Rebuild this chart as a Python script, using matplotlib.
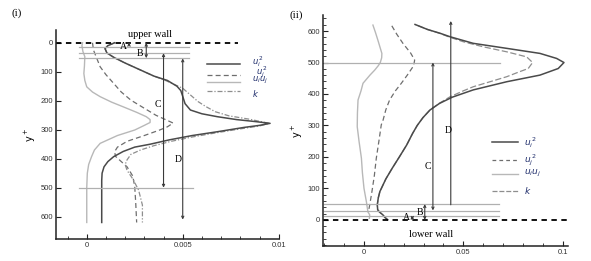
import matplotlib
matplotlib.use("Agg")
import matplotlib.pyplot as plt
from matplotlib.ticker import MultipleLocator

# ---------------- data: panel (i) ----------------
L_ui2_y = [0, 10, 20, 35, 50, 70, 85, 100, 115, 130, 150, 165, 185, 210, 232, 245, 255, 265, 272, 278,
           285, 292, 307, 320, 335, 350, 360, 375, 393, 410, 428, 450, 475, 620]
L_ui2_x = [0.00145, 0.0011, 0.00095, 0.00105, 0.0014, 0.0020, 0.0025, 0.0030, 0.0035, 0.0042, 0.0047,
           0.0049, 0.0050, 0.00512, 0.0054, 0.0060, 0.0068, 0.0078, 0.0088, 0.00955, 0.0090, 0.0082,
           0.0068, 0.0055, 0.0043, 0.0033, 0.0025, 0.0019, 0.0014, 0.0011, 0.0009, 0.0008, 0.00078, 0.00078]

L_k_y = [0, 10, 20, 35, 50, 70, 85, 100, 115, 130, 145, 157, 180, 203, 220, 238, 252, 264, 278, 287,
         295, 310, 325, 340, 355, 370, 385, 404, 420, 440, 470, 508, 560, 620]
L_k_x = [0.00145, 0.0011, 0.00095, 0.00105, 0.0014, 0.0020, 0.0025, 0.0030, 0.0035, 0.0041, 0.0046,
         0.0050, 0.0054, 0.0058, 0.0062, 0.0067, 0.0074, 0.0085, 0.0095, 0.0090, 0.0082, 0.0068,
         0.0055, 0.0044, 0.0035, 0.0028, 0.0023, 0.0021, 0.0020, 0.0021, 0.0024, 0.0027, 0.0029, 0.0029]

L_uj2_y = [0, 25, 50, 83, 110, 140, 170, 198, 226, 250, 265, 277, 290, 301, 320, 340, 360, 376, 392,
           410, 428, 460, 497, 550, 620]
L_uj2_x = [0.0003, 0.00035, 0.0005, 0.0007, 0.0010, 0.0014, 0.0018, 0.0023, 0.0030, 0.0036, 0.0041,
           0.0045, 0.0042, 0.0038, 0.0030, 0.0021, 0.0016, 0.00145, 0.0015, 0.0018, 0.0021, 0.0024,
           0.0025, 0.00255, 0.0026]

L_uiuj_y = [0, 10, 30, 48, 80, 106, 130, 152, 170, 186, 205, 221, 240, 255, 265, 275, 285, 301, 320,
            347, 370, 393, 420, 450, 500, 620]
L_uiuj_x = [-0.00022, -0.00025, -0.0002, -0.0001, -0.00012, -0.00015, -0.0001, 0.0, 0.0003, 0.0007,
            0.0013, 0.0019, 0.0026, 0.0031, 0.0033, 0.0033, 0.0030, 0.0025, 0.0016, 0.0007, 0.0004,
            0.00025, 0.0001, 0.00003, 0.0, 0.0]

# ---------------- data: panel (ii) ----------------
R_ui2_y = [0, 8, 16, 25, 32, 48, 70, 90, 130, 164, 200, 238, 275, 300, 325, 349, 370, 390, 413, 439,
           460, 481, 500, 513, 529, 545, 561, 582, 593, 605, 621]
R_ui2_x = [0.012, 0.0105, 0.0095, 0.0078, 0.0069, 0.0067, 0.0072, 0.0080, 0.0110, 0.0142, 0.0178,
           0.0215, 0.0245, 0.0268, 0.0297, 0.0332, 0.0380, 0.0445, 0.0550, 0.0719, 0.0886, 0.0978,
           0.1007, 0.0970, 0.0886, 0.0719, 0.0550, 0.0433, 0.0383, 0.0320, 0.0257]

R_k_y = [0, 8, 16, 25, 32, 48, 70, 90, 130, 164, 200, 238, 275, 300, 325, 349, 370, 391, 410,
         423, 440, 455, 470, 481, 500, 518, 534, 550, 566, 582, 593, 605, 621]
R_k_x = [0.012, 0.0105, 0.0095, 0.0078, 0.0069, 0.0067, 0.0072, 0.0080, 0.0110, 0.0142, 0.0178,
         0.0215, 0.0245, 0.0268, 0.0297, 0.0332, 0.0378, 0.0433, 0.0500, 0.0550, 0.0640,
         0.0719, 0.0780, 0.0827, 0.0849, 0.0819, 0.0719, 0.0600, 0.0500, 0.0425, 0.0380, 0.0320, 0.0257]

R_uj2_y = [35, 48, 90, 140, 196, 250, 302, 317, 350, 381, 410, 434, 460, 487, 500, 508, 530, 561, 590, 619]
R_uj2_x = [0.0025, 0.0029, 0.0040, 0.0052, 0.0062, 0.0075, 0.0087, 0.0096, 0.0110, 0.0129, 0.0158,
           0.0188, 0.0218, 0.0247, 0.0253, 0.0255, 0.0235, 0.0196, 0.0165, 0.0138]

R_uiuj_y = [5, 16, 25, 37, 58, 100, 150, 196, 250, 296, 340, 381, 410, 434, 460, 476, 490, 500, 515,
            529, 550, 571, 595, 619]
R_uiuj_x = [0.0027, 0.0029, 0.0020, 0.0017, 0.0012, 0.0, -0.0008, -0.0013, -0.0025, -0.0034, -0.0033,
            -0.0030, -0.0015, -0.0005, 0.0030, 0.0054, 0.0072, 0.0082, 0.0089, 0.0090, 0.0080, 0.0070,
            0.0058, 0.0045]

legend_labels = [r'$u_i^{\,2}$', r'$u_j^{\,2}$', r'$u_iu_j$', r'$k$']
L_xticks = [0, 0.005, 0.01]
L_xticklabels = ['0', '0.005', '0.01']
R_xticks = [0, 0.05, 0.1]
R_xticklabels = ['0', '0.05', '0.1']
yticks = [0, 100, 200, 300, 400, 500, 600]

# ---------------- styles ----------------
C_UI2 = '#4a4a4a'
C_UJ2 = '#6e6e6e'
C_UIUJ = '#b8b8b8'
C_K = '#8e8e8e'
C_GUIDE = '#b0b0b0'
C_ARR = '#3a3a3a'
LBL_C = '#1f2d6b'
SERIF = 'Liberation Serif'

fig = plt.figure(figsize=(5.91, 2.61), dpi=100)
fig.patch.set_facecolor('white')

axL = fig.add_axes([0.0948, 0.0843, 0.3768, 0.8007])
axR = fig.add_axes([0.546, 0.0575, 0.415, 0.885])


def style_axis(ax):
    for s in ['top', 'right']:
        ax.spines[s].set_visible(False)
    for s in ['left', 'bottom']:
        ax.spines[s].set_linewidth(1.1)
        ax.spines[s].set_color('#222222')
    ax.tick_params(which='both', direction='in', colors='#222222', labelsize=5.5,
                   labelcolor='#333333', pad=2)
    ax.tick_params(which='major', length=3.5, width=0.8)
    ax.tick_params(which='minor', length=2, width=0.6)
    for lab in ax.get_xticklabels() + ax.get_yticklabels():
        lab.set_family('Liberation Sans')


def varrow(ax, x, y0, y1, style='<->'):
    ax.annotate('', xy=(x, y1), xytext=(x, y0),
                arrowprops=dict(arrowstyle=style, color=C_ARR, lw=0.8,
                                mutation_scale=4, shrinkA=0, shrinkB=0))


# ---------------- panel (i) ----------------
ax = axL
ax.plot(L_uiuj_x, L_uiuj_y, color=C_UIUJ, lw=1.0, ls='-')
ax.plot(L_uj2_x, L_uj2_y, color=C_UJ2, lw=0.9, ls=(0, (4, 2.5)))
ax.plot(L_k_x, L_k_y, color=C_K, lw=0.9, ls=(0, (4, 1.5, 1, 1.5)))
ax.plot(L_ui2_x, L_ui2_y, color=C_UI2, lw=1.1, ls='-')

for yy in [13, 35, 53]:
    ax.plot([-0.0004, 0.00535], [yy, yy], color=C_GUIDE, lw=0.9)
ax.plot([-0.0004, 0.00555], [500, 500], color=C_GUIDE, lw=0.9)
ax.plot([-0.0016, 0.0079], [0, 0], color='black', lw=1.3, ls=(0, (3, 2.5)))

varrow(ax, 0.0022, 0, 12)
varrow(ax, 0.0031, 0, 53)
varrow(ax, 0.0040, 36, 500)
varrow(ax, 0.0050, 54, 610)
ax.text(0.0019, 12, 'A', family=SERIF, fontsize=7, ha='center', va='center')
ax.text(0.00275, 38, 'B', family=SERIF, fontsize=7, ha='center', va='center')
ax.text(0.00372, 212, 'C', family=SERIF, fontsize=7, ha='center', va='center')
ax.text(0.00474, 404, 'D', family=SERIF, fontsize=7, ha='center', va='center')
ax.text(0.0033, -30, 'upper wall', family=SERIF, fontsize=7.5, ha='center', va='center')

# legend (i)
leg_styles = [(C_UI2, '-', 1.1), (C_UJ2, (0, (4, 2.5)), 0.9), (C_UIUJ, '-', 1.0),
              (C_K, (0, (4, 1.5, 1, 1.5)), 0.9)]
for (c, ls, lw), yy, ty, lab, dx in zip(leg_styles, [73, 110, 136, 165], [64, 100, 131, 176],
                                        legend_labels, [0.0, 0.0002, 0.0, 0.0]):
    ax.plot([0.00625, 0.0080], [yy, yy], color=c, ls=ls, lw=lw)
    ax.text(0.0086 + dx, ty, lab, color=LBL_C, fontsize=6, ha='left', va='center')

ax.set_xlim(-0.0016, 0.01)
ax.set_ylim(677, -44)
ax.set_xticks(L_xticks)
ax.set_xticklabels(L_xticklabels)
ax.xaxis.set_minor_locator(MultipleLocator(0.001))
ax.set_yticks(yticks)
ax.set_ylabel(r'y$^+$', fontsize=7, labelpad=2)
style_axis(ax)

# ---------------- panel (ii) ----------------
ax = axR
ax.plot(R_uiuj_x, R_uiuj_y, color=C_UIUJ, lw=1.0, ls='-')
ax.plot(R_uj2_x, R_uj2_y, color=C_UJ2, lw=0.9, ls=(0, (4, 2.5)))
ax.plot(R_k_x, R_k_y, color=C_K, lw=0.9, ls=(0, (5, 2)))
ax.plot(R_ui2_x, R_ui2_y, color=C_UI2, lw=1.1, ls='-')

for yy in [13, 29, 50]:
    ax.plot([-0.02, 0.068], [yy, yy], color=C_GUIDE, lw=0.9)
ax.plot([-0.02, 0.0685], [500, 500], color=C_GUIDE, lw=0.9)
ax.plot([-0.0208, 0.1027], [0, 0], color='black', lw=1.3, ls=(0, (3, 2.5)))

varrow(ax, 0.0243, 0, 13)
varrow(ax, 0.0306, 0, 50)
varrow(ax, 0.0347, 30, 500)
varrow(ax, 0.0437, 48, 632, style='->')
ax.text(0.0213, 8, 'A', family=SERIF, fontsize=7, ha='center', va='center')
ax.text(0.0280, 22, 'B', family=SERIF, fontsize=7, ha='center', va='center')
ax.text(0.0322, 170, 'C', family=SERIF, fontsize=7, ha='center', va='center')
ax.text(0.0425, 283, 'D', family=SERIF, fontsize=7, ha='center', va='center')
ax.text(0.034, -48, 'lower wall', family=SERIF, fontsize=7.5, ha='center', va='center')

leg_styles_r = [(C_UI2, '-', 1.1), (C_UJ2, (0, (3, 2.5)), 0.9), (C_UIUJ, '-', 1.0),
                (C_K, (0, (4, 1.5)), 0.9)]
for (c, ls, lw), yy, lab in zip(leg_styles_r, [247, 190, 146, 92], legend_labels):
    ax.plot([0.0643, 0.0777], [yy, yy], color=c, ls=ls, lw=lw)
    ax.text(0.0805, yy, lab, color=LBL_C, fontsize=6.5, ha='left', va='center')

ax.set_xlim(-0.0208, 0.1027)
ax.set_ylim(-83, 651)
ax.set_xticks(R_xticks)
ax.set_xticklabels(R_xticklabels)
ax.xaxis.set_minor_locator(MultipleLocator(0.01))
ax.set_yticks(yticks)
ax.yaxis.set_minor_locator(MultipleLocator(20))
ax.set_ylabel(r'y$^+$', fontsize=7, labelpad=2)
style_axis(ax)

fig.text(0.029, 0.95, '(i)', family=SERIF, fontsize=8, ha='center', va='center')
fig.text(0.502, 0.942, '(ii)', family=SERIF, fontsize=8, ha='center', va='center')

fig.savefig('out.png', dpi=100, facecolor='white')
